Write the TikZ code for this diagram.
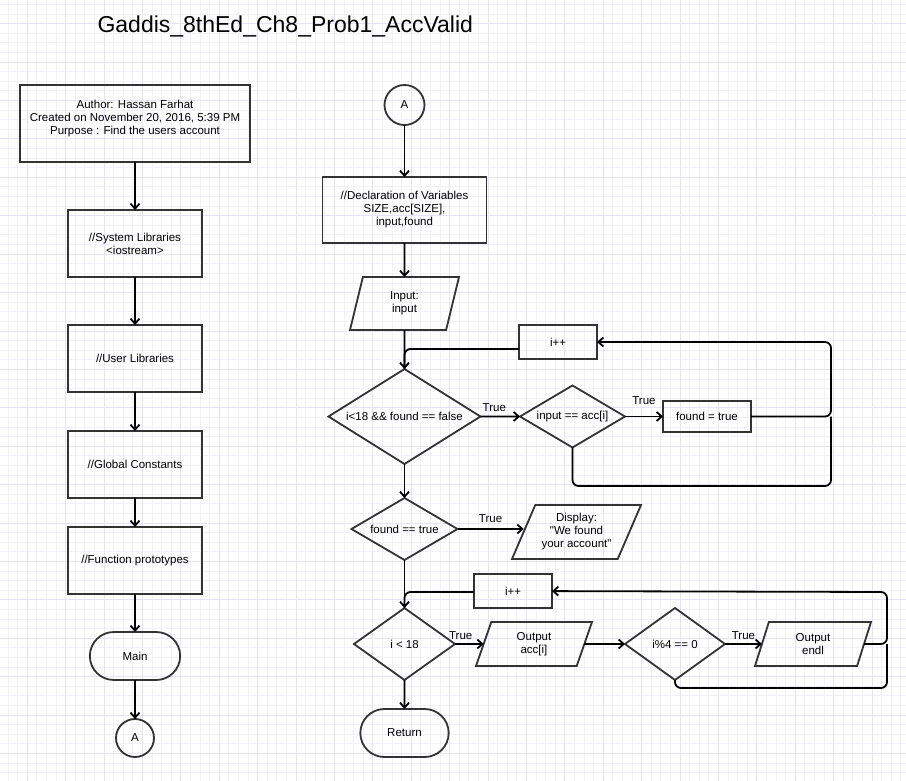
\documentclass[tikz,border=0pt]{standalone}
\usepackage{fontspec}
\setmainfont{Liberation Sans}
\newfontfamily\plainsans{Liberation Sans}
\usetikzlibrary{positioning,shapes.geometric,shapes.misc,arrows.meta}

\definecolor{gridmin}{RGB}{241,241,252}
\definecolor{gridmaj}{RGB}{228,228,249}
\definecolor{bord}{RGB}{51,51,51}

\begin{document}
\begin{tikzpicture}[x=1pt,y=-1pt,
  font=\fontsize{11.5}{13}\selectfont,
  proc/.style={
   draw=bord,
   line width=1.8pt,
   outer sep=0pt,
   align=center,
   inner sep=2pt
  },
  term/.style={
   draw=bord,
   line width=1.8pt,
   outer sep=0pt,
   rounded rectangle,
   minimum width=97pt,
   minimum height=48pt
  },
  conn/.style={
   draw=bord,
   line width=1.8pt,
   outer sep=0pt,
   circle,
   inner sep=0pt
  },
  dec/.style={
   draw=bord,
   line width=1.8pt,
   outer sep=0pt,
   diamond,
   inner sep=0pt
  },
  io/.style={
   draw=bord,
   line width=1.8pt,
   outer sep=0pt,
   trapezium,
   trapezium stretches body,
   align=center,
   inner sep=1pt
  },
  arr/.style={
   line width=1.8pt,
   -{Straight Barb[length=5pt,width=9pt]}
  },
  lin/.style={
   line width=1.8pt,
   rounded corners=6pt
  }]
  \useasboundingbox (0,0) rectangle (906,781);
  \fill[white] (0,0) rectangle (906,781);
  \begin{scope}[shift={(8,4.5)}]
	\draw[gridmin, line width=0.8pt, step=9.6pt] (-8,-4.5) grid (898,776.5);
  \end{scope}
  \begin{scope}[shift={(27.2,23.7)}]
	\draw[gridmaj, line width=0.8pt, step=38.4pt] (-27.2,-23.7) grid (878.8,757.3);
  \end{scope}

  \node[anchor=base west, font=\fontsize{23}{27}\selectfont] (title) at (94,33)
		  {Gaddis\_8thEd\_Ch8\_Prob1\_AccValid};

% left column
  \node[proc, minimum width=230pt, minimum height=77pt] (head) at (135,123.5)
		  {Author: Hassan Farhat\\Created on November 20, 2016, 5:39 PM\\Purpose : Find the users account\\ \mbox{}};
  \node[proc, minimum width=134pt, minimum height=67pt, below=48pt of head] (sys)
		  {//System Libraries\\<iostream>};
  \node[proc, minimum width=134pt, minimum height=67pt, below=48pt of sys] (user)
		  {//User Libraries};
  \node[proc, minimum width=134pt, minimum height=67pt, below=39pt of user] (glob)
		  {//Global Constants};
  \node[proc, minimum width=134pt, minimum height=67pt, below=29pt of glob] (proto)
		  {//Function prototypes};
  \node[term, below=38pt of proto] (mainT)
		  {Main};
  \node[conn, minimum size=38pt, below=39pt of mainT] (A1)
		  {A};

  \draw[arr] (head) -- (sys);
  \draw[arr] (sys) -- (user);
  \draw[arr] (user) -- (glob);
  \draw[arr] (glob) -- (proto);
  \draw[arr] (proto) -- (mainT);
  \draw[arr] (mainT) -- (A1);

% main
  \node[conn, minimum size=40pt] (A2) at (404.5,105)
		  {A};
  \node[proc, minimum width=164pt, minimum height=66pt, below=52pt of A2] (decl)
		  {//Declaration of Variables\\SIZE,acc[SIZE],\\input,found};
  \node[io, minimum width=109pt, minimum height=53pt, trapezium left angle=63,
		trapezium right angle=117, below=34pt of decl] (inp)
		  {Input:\\input};
  \node[dec, minimum width=152pt, minimum height=95pt, aspect=1.6, below=39pt of inp] (d1)
		  {i<18 \&\& found == false};
  \node[dec, minimum width=105pt, minimum height=62pt, aspect=1.7] (d2) at (572.5,416.5)
		  {input == acc[i]};
  \node[proc, minimum width=88pt, minimum height=31pt] (setf) at (707,416.5)
		  {found = true};
  \node[proc, minimum width=78pt, minimum height=34pt] (inc1) at (558,342)
		  {i++};
  \coordinate (c1) at (831,342);
  \coordinate (c1b) at (831,486);

  \node[dec, minimum width=106pt, minimum height=62pt, aspect=1.7, below=34pt of d1] (d3)
		  {found == true};
  \node[io, minimum width=129pt, minimum height=54pt, trapezium left angle=59,
		trapezium right angle=121, font=\plainsans\fontsize{11.5}{13}\selectfont] (disp) at (576.5,532)
		  {Display:\\"We found\\your account"};

  \node[proc, minimum width=78pt, minimum height=34pt] (inc2) at (513,591)
		  {i++};
  \node[dec, minimum width=101pt, minimum height=72pt, aspect=1.4, below=48pt of d3] (d4)
		  {i < 18};
  \node[io, minimum width=116pt, minimum height=44pt, trapezium left angle=59,
		trapezium right angle=121] (outa) at (534,644)
		  {Output\\acc[i]};
  \node[dec, minimum width=100pt, minimum height=72pt, aspect=1.4] (d5) at (675,644)
		  {i\%4 == 0};
  \node[io, minimum width=116pt, minimum height=44pt, trapezium left angle=59,
		trapezium right angle=121] (oute) at (813,644)
		  {Output\\endl};
  \coordinate (c2) at (887,592);
  \coordinate (c2b) at (887,688);
  \node[term, minimum width=95pt, below=29pt of d4] (ret)
		  {Return};

  \draw[arr] (A2) -- (decl);
  \draw[arr] (decl) -- (inp);
  \draw[arr] (inp) -- (d1);
  \draw[lin] ([yshift=-7pt]inc1.west) -| (d1.north);
  \draw[arr] (d1) -- node[above=1pt, pos=0.35] {True} (d2);
  \draw[arr] (d2) -- node[above=8pt] {True} (setf);
  \draw[arr, rounded corners=6pt] (setf) -| (c1) -- (inc1);
  \draw[lin] (d2.south) |- (c1b) -- (c1 |- setf.east);

  \draw[arr] (d1) -- (d3);
  \draw[arr] (d3) -- node[above=2pt] {True} (d3 -| disp.west);
  \draw[arr] (d3) -- (d4);
  \draw[lin] ([yshift=-1pt]inc2.west) -| (d4.north);
  \draw[arr] (d4) -- node[above, pos=0.2] {True} (outa);
  \draw[arr] (outa) -- (d5);
  \draw[arr] (d5) -- node[above] {True} (oute);
  \draw[arr, rounded corners=6pt] (oute) -| (c2) -- (inc2);
  \draw[lin] (d5.south) |- (c2b) -- (c2 |- oute.east);
  \draw[arr] (d4) -- (ret);

\end{tikzpicture}
\end{document}
